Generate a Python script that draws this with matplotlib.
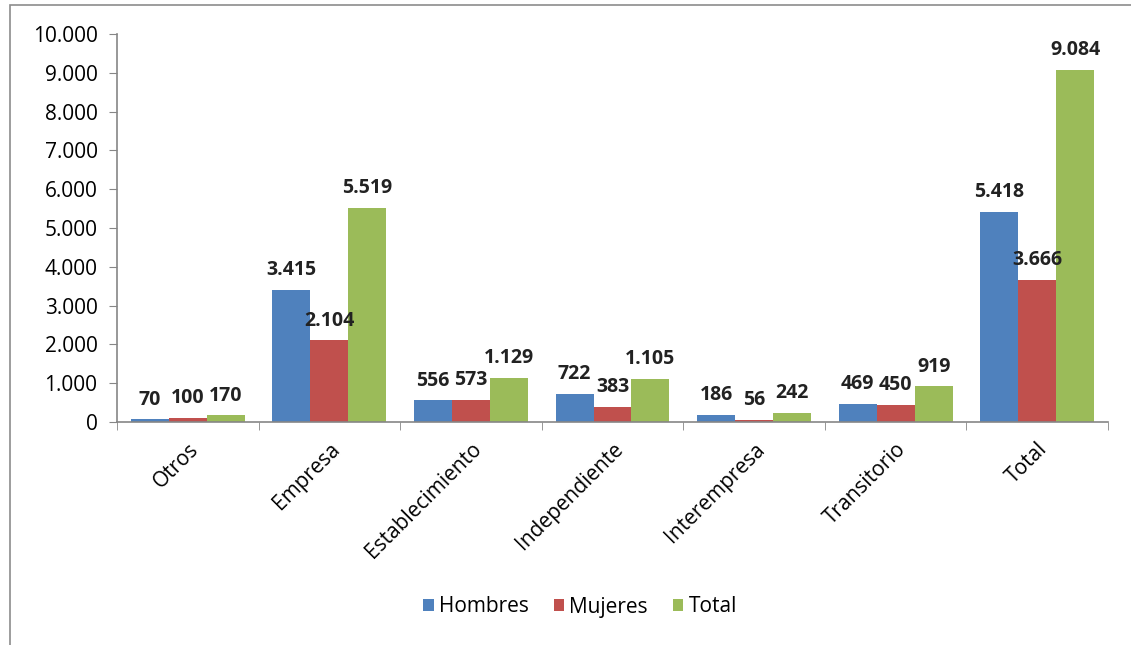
import numpy as np
import matplotlib.pyplot as plt
from matplotlib.patches import Rectangle
from matplotlib.ticker import FuncFormatter, FixedLocator

# data
categorias = ['Otros', 'Empresa', 'Establecimiento', 'Independiente',
              'Interempresa', 'Transitorio', 'Total']
hombres = [70, 3415, 556, 722, 186, 469, 5418]
mujeres = [100, 2104, 573, 383, 56, 450, 3666]
total = [170, 5519, 1129, 1105, 242, 919, 9084]
series = ['Hombres', 'Mujeres', 'Total']
colores = ['#4F81BD', '#C0504D', '#9BBB59']

plt.rcParams['font.family'] = ['Open Sans', 'DejaVu Sans']

fig = plt.figure(figsize=(11.31, 6.45), dpi=100)
ax = fig.add_axes([0.1034, 0.3457, 0.8763, 0.6016])

# outer frame like the excel chart area
fig.patches.append(Rectangle((10 / 1131, -0.05), 1.2, 1 - 5 / 645 + 0.05,
                             transform=fig.transFigure, fill=False,
                             edgecolor='#8c8c8c', linewidth=1.2))

x = np.arange(len(categorias))
w = 0.268
for i, (vals, nombre, col) in enumerate(zip([hombres, mujeres, total], series, colores)):
    pos = x + (i - 1) * w
    ax.bar(pos, vals, width=w, color=col, label=nombre)
    for p, v in zip(pos, vals):
        txt = f'{v:,}'.replace(',', '.')
        ax.annotate(txt, (p, v), xytext=(0, 7), textcoords='offset points',
                    ha='center', va='bottom', fontsize=14, fontweight='bold',
                    color='#222222')

ax.set_xlim(-0.5, len(categorias) - 0.5)
ax.set_ylim(0, 10000)
ax.set_yticks(np.arange(0, 10001, 1000))
ax.yaxis.set_major_formatter(FuncFormatter(lambda v, _: f'{int(v):,}'.replace(',', '.')))

ax.set_xticks(x)
ax.set_xticklabels(categorias, rotation=45, ha='right', rotation_mode='anchor', fontsize=15)
ax.xaxis.set_minor_locator(FixedLocator(np.arange(-0.5, len(categorias), 1)))
ax.tick_params(axis='x', which='major', length=0, pad=12)
ax.tick_params(axis='x', which='minor', length=6, color='#868686', direction='out')
ax.tick_params(axis='y', length=6, color='#868686', direction='out', labelsize=15, pad=8)

for s in ['top', 'right']:
    ax.spines[s].set_visible(False)
for s in ['left', 'bottom']:
    ax.spines[s].set_color('#868686')
    ax.spines[s].set_linewidth(1.2)

fig.legend(loc='center', bbox_to_anchor=(580 / 1131, 1 - 607 / 645), ncol=3,
           frameon=False, fontsize=15, handlelength=0.5, handleheight=0.5,
           handletextpad=0.25, columnspacing=1.2)

fig.savefig('out.png', dpi=100)
